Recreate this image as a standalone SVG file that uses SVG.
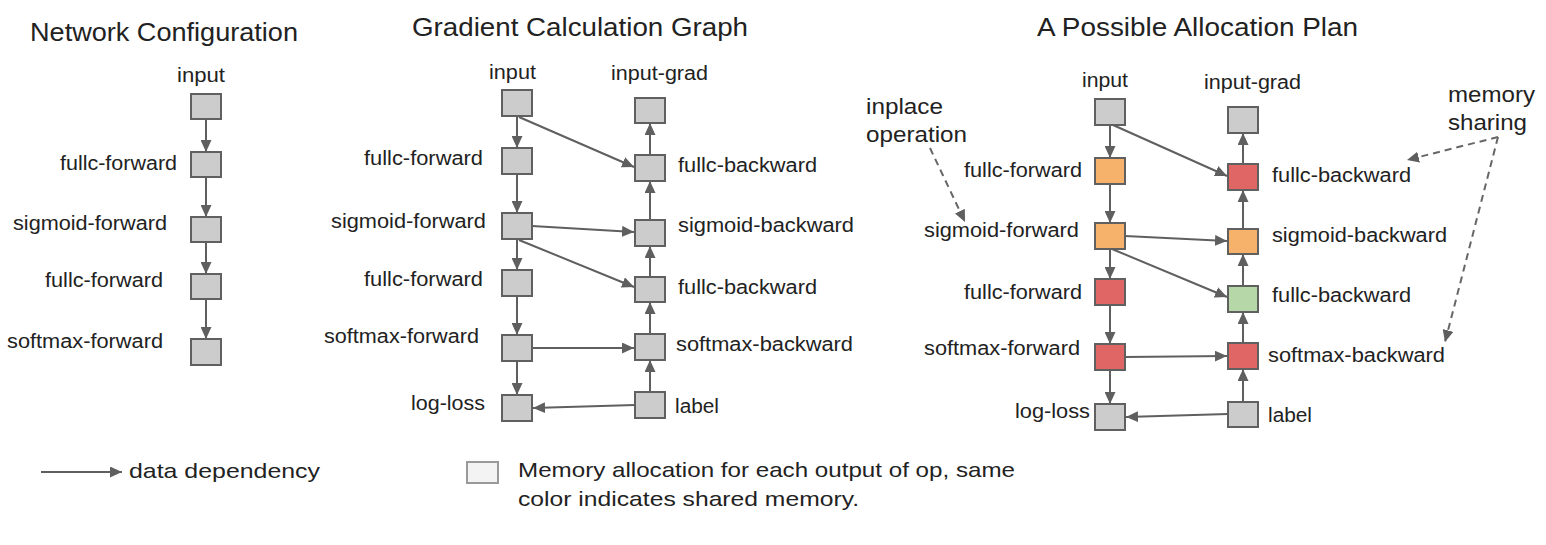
<svg xmlns="http://www.w3.org/2000/svg" width="1546" height="545" viewBox="0 0 1546 545">
<style>
text{font-family:"Liberation Sans",Arial,sans-serif;fill:#222;}
.t{font-size:25px;}
.l{font-size:19.5px;}
.lg{font-size:21px;}
.a{font-size:22px;}
.box{stroke:#606060;stroke-width:2;}
.g{fill:#cccccc;}
.o{fill:#f6b26b;}
.r{fill:#e06666;}
.gr{fill:#b6d7a8;}
.e{stroke:#5f5f5f;stroke-width:2;fill:none;marker-end:url(#ah);}
.d{stroke:#666;stroke-width:2;fill:none;stroke-dasharray:7 5;marker-end:url(#ah);}
</style>
<defs>
<marker id="ah" markerUnits="userSpaceOnUse" markerWidth="13" markerHeight="11" refX="12" refY="5.5" orient="auto"><path d="M0,0 L12,5.5 L0,11 z" fill="#5f5f5f"/></marker>
</defs>
<rect width="1546" height="545" fill="#fff"/>

<text class="t" x="30" y="41" textLength="268" lengthAdjust="spacingAndGlyphs">Network Configuration</text>
<text class="t" x="412" y="36" textLength="336" lengthAdjust="spacingAndGlyphs">Gradient Calculation Graph</text>
<text class="t" x="1037" y="36" textLength="321" lengthAdjust="spacingAndGlyphs">A Possible Allocation Plan</text>

<!-- Panel 1 -->
<g id="p1-input"><rect class="box g" x="191" y="94" width="30" height="25"/><text class="l" x="177" y="82" textLength="48" lengthAdjust="spacingAndGlyphs">input</text></g>
<g id="p1-fullc1"><rect class="box g" x="191" y="152" width="30" height="25"/><text class="l" x="60" y="170" textLength="117" lengthAdjust="spacingAndGlyphs">fullc-forward</text></g>
<g id="p1-sigmoid"><rect class="box g" x="191" y="217" width="30" height="25"/><text class="l" x="13" y="230" textLength="154" lengthAdjust="spacingAndGlyphs">sigmoid-forward</text></g>
<g id="p1-fullc2"><rect class="box g" x="191" y="274" width="30" height="25"/><text class="l" x="45" y="287" textLength="118" lengthAdjust="spacingAndGlyphs">fullc-forward</text></g>
<g id="p1-softmax"><rect class="box g" x="191" y="339" width="30" height="26"/><text class="l" x="7" y="348" textLength="156" lengthAdjust="spacingAndGlyphs">softmax-forward</text></g>

<!-- Panel 2 -->
<g id="p2-input"><rect class="box g" x="502" y="90" width="30" height="26"/><text class="l" x="489" y="79" textLength="47" lengthAdjust="spacingAndGlyphs">input</text></g>
<g id="p2-fullc1"><rect class="box g" x="502" y="148" width="30" height="26"/><text class="l" x="364" y="165" textLength="119" lengthAdjust="spacingAndGlyphs">fullc-forward</text></g>
<g id="p2-sigmoid"><rect class="box g" x="502" y="213" width="30" height="26"/><text class="l" x="331" y="228" textLength="155" lengthAdjust="spacingAndGlyphs">sigmoid-forward</text></g>
<g id="p2-fullc2"><rect class="box g" x="502" y="270" width="30" height="26"/><text class="l" x="364" y="286" textLength="119" lengthAdjust="spacingAndGlyphs">fullc-forward</text></g>
<g id="p2-softmax"><rect class="box g" x="502" y="335" width="30" height="26"/><text class="l" x="324" y="343" textLength="155" lengthAdjust="spacingAndGlyphs">softmax-forward</text></g>
<g id="p2-logloss"><rect class="box g" x="502" y="395" width="30" height="26"/><text class="l" x="411" y="410" textLength="74" lengthAdjust="spacingAndGlyphs">log-loss</text></g>
<g id="p2-inputgrad"><rect class="box g" x="635" y="98" width="30" height="25"/><text class="l" x="611" y="80" textLength="97" lengthAdjust="spacingAndGlyphs">input-grad</text></g>
<g id="p2-fullcb1"><rect class="box g" x="635" y="155" width="30" height="26"/><text class="l" x="678" y="172" textLength="139" lengthAdjust="spacingAndGlyphs">fullc-backward</text></g>
<g id="p2-sigmoidb"><rect class="box g" x="635" y="220" width="30" height="26"/><text class="l" x="678" y="232" textLength="176" lengthAdjust="spacingAndGlyphs">sigmoid-backward</text></g>
<g id="p2-fullcb2"><rect class="box g" x="635" y="277" width="30" height="25"/><text class="l" x="678" y="294" textLength="139" lengthAdjust="spacingAndGlyphs">fullc-backward</text></g>
<g id="p2-softmaxb"><rect class="box g" x="635" y="334" width="30" height="26"/><text class="l" x="676" y="351" textLength="177" lengthAdjust="spacingAndGlyphs">softmax-backward</text></g>
<g id="p2-label"><rect class="box g" x="635" y="392" width="30" height="26"/><text class="l" x="675" y="413" textLength="44" lengthAdjust="spacingAndGlyphs">label</text></g>

<!-- Panel 3 -->
<g id="p3-input"><rect class="box g" x="1095" y="99" width="30" height="26"/><text class="l" x="1082" y="87" textLength="46" lengthAdjust="spacingAndGlyphs">input</text></g>
<g id="p3-fullc1"><rect class="box o" x="1095" y="158" width="30" height="26"/><text class="l" x="964" y="177" textLength="118" lengthAdjust="spacingAndGlyphs">fullc-forward</text></g>
<g id="p3-sigmoid"><rect class="box o" x="1095" y="223" width="30" height="26"/><text class="l" x="924" y="237" textLength="155" lengthAdjust="spacingAndGlyphs">sigmoid-forward</text></g>
<g id="p3-fullc2"><rect class="box r" x="1095" y="279" width="30" height="26"/><text class="l" x="964" y="299" textLength="118" lengthAdjust="spacingAndGlyphs">fullc-forward</text></g>
<g id="p3-softmax"><rect class="box r" x="1095" y="344" width="30" height="26"/><text class="l" x="924" y="355" textLength="156" lengthAdjust="spacingAndGlyphs">softmax-forward</text></g>
<g id="p3-logloss"><rect class="box g" x="1095" y="404" width="30" height="26"/><text class="l" x="1015" y="418" textLength="75" lengthAdjust="spacingAndGlyphs">log-loss</text></g>
<g id="p3-inputgrad"><rect class="box g" x="1228" y="107" width="30" height="26"/><text class="l" x="1204" y="89" textLength="97" lengthAdjust="spacingAndGlyphs">input-grad</text></g>
<g id="p3-fullcb1"><rect class="box r" x="1228" y="164" width="30" height="26"/><text class="l" x="1272" y="182" textLength="139" lengthAdjust="spacingAndGlyphs">fullc-backward</text></g>
<g id="p3-sigmoidb"><rect class="box o" x="1228" y="229" width="30" height="25"/><text class="l" x="1272" y="242" textLength="175" lengthAdjust="spacingAndGlyphs">sigmoid-backward</text></g>
<g id="p3-fullcb2"><rect class="box gr" x="1228" y="286" width="30" height="26"/><text class="l" x="1272" y="302" textLength="139" lengthAdjust="spacingAndGlyphs">fullc-backward</text></g>
<g id="p3-softmaxb"><rect class="box r" x="1228" y="343" width="30" height="26"/><text class="l" x="1268" y="362" textLength="177" lengthAdjust="spacingAndGlyphs">softmax-backward</text></g>
<g id="p3-label"><rect class="box g" x="1228" y="402" width="30" height="25"/><text class="l" x="1268" y="422" textLength="44" lengthAdjust="spacingAndGlyphs">label</text></g>

<g id="annot-inplace"><text class="a" x="866" y="114" textLength="77" lengthAdjust="spacingAndGlyphs">inplace</text><text class="a" x="866" y="142" textLength="101" lengthAdjust="spacingAndGlyphs">operation</text></g>
<g id="annot-memory"><text class="a" x="1448" y="102" textLength="87" lengthAdjust="spacingAndGlyphs">memory</text><text class="a" x="1448" y="130" textLength="79" lengthAdjust="spacingAndGlyphs">sharing</text></g>

<g id="connectors">
<line class="e" x1="206" y1="119" x2="206" y2="152"/>
<line class="e" x1="206" y1="177" x2="206" y2="217"/>
<line class="e" x1="206" y1="242" x2="206" y2="274"/>
<line class="e" x1="206" y1="299" x2="206" y2="339"/>

<line class="e" x1="517" y1="116" x2="517" y2="148"/>
<line class="e" x1="517" y1="174" x2="517" y2="213"/>
<line class="e" x1="517" y1="239" x2="517" y2="270"/>
<line class="e" x1="517" y1="296" x2="517" y2="335"/>
<line class="e" x1="517" y1="361" x2="517" y2="395"/>
<line class="e" x1="519" y1="117" x2="634" y2="167"/>
<line class="e" x1="532" y1="226" x2="634" y2="232"/>
<line class="e" x1="519" y1="240" x2="634" y2="287"/>
<line class="e" x1="532" y1="348" x2="634" y2="348"/>
<line class="e" x1="635" y1="405" x2="533" y2="408"/>
<line class="e" x1="650" y1="392" x2="650" y2="360"/>
<line class="e" x1="650" y1="334" x2="650" y2="302"/>
<line class="e" x1="650" y1="277" x2="650" y2="246"/>
<line class="e" x1="650" y1="220" x2="650" y2="181"/>
<line class="e" x1="650" y1="155" x2="650" y2="123"/>

<line class="e" x1="1110" y1="125" x2="1110" y2="158"/>
<line class="e" x1="1110" y1="184" x2="1110" y2="223"/>
<line class="e" x1="1110" y1="249" x2="1110" y2="279"/>
<line class="e" x1="1110" y1="305" x2="1110" y2="344"/>
<line class="e" x1="1110" y1="370" x2="1110" y2="404"/>
<line class="e" x1="1113" y1="125" x2="1227" y2="176"/>
<line class="e" x1="1125" y1="236" x2="1227" y2="241"/>
<line class="e" x1="1112" y1="249" x2="1227" y2="297"/>
<line class="e" x1="1125" y1="357" x2="1227" y2="356"/>
<line class="e" x1="1228" y1="414" x2="1126" y2="417"/>
<line class="e" x1="1243" y1="402" x2="1243" y2="369"/>
<line class="e" x1="1243" y1="343" x2="1243" y2="312"/>
<line class="e" x1="1243" y1="286" x2="1243" y2="254"/>
<line class="e" x1="1243" y1="229" x2="1243" y2="190"/>
<line class="e" x1="1243" y1="164" x2="1243" y2="133"/>

<line class="d" x1="930" y1="148" x2="965" y2="222"/>
<line class="d" x1="1498" y1="137" x2="1407" y2="160"/>
<line class="d" x1="1498" y1="137" x2="1445" y2="342"/>
</g>

<g id="legend">
<line class="e" x1="41" y1="472" x2="122" y2="472"/>
<text class="lg" x="129" y="478" textLength="191" lengthAdjust="spacingAndGlyphs">data dependency</text>
<rect x="467" y="462" width="31" height="21" fill="#f3f3f3" stroke="#999" stroke-width="2"/>
<text class="lg" x="518" y="477" textLength="497" lengthAdjust="spacingAndGlyphs">Memory allocation for each output of op, same</text>
<text class="lg" x="518" y="506" textLength="341" lengthAdjust="spacingAndGlyphs">color indicates shared memory.</text>
</g>
</svg>
